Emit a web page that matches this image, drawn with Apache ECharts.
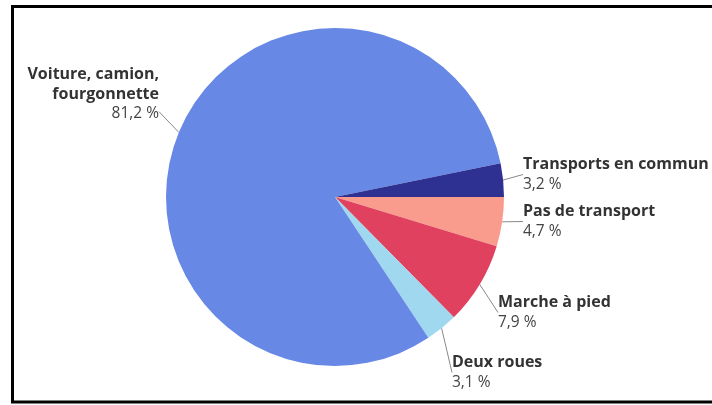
<!DOCTYPE html>
<html><head><meta charset="utf-8">
<script src="https://cdn.jsdelivr.net/npm/echarts@6/dist/echarts.min.js"></script>
<style>html,body{margin:0;padding:0;background:#fff}#c{width:712px;height:405px}</style>
</head><body><div id="c"></div>
<script>
const categories = ["Pas de transport", "Marche à pied", "Deux roues", "Voiture, camion,\nfourgonnette", "Transports en commun"];
const values = [4.7, 7.9, 3.1, 81.2, 3.2];
const valueLabels = ["4,7 %", "7,9 %", "3,1 %", "81,2 %", "3,2 %"];
const colors = ["#f99b8d", "#e0415f", "#9fd8ef", "#6788e5", "#2f3192"];

const labelPos = [
  {x: 523, y: 202, align: 'left', extra: 0},
  {x: 498, y: 293, align: 'left', extra: 0},
  {x: 452, y: 353, align: 'left', extra: 0},
  {x: 159, y: 65, align: 'right', extra: 56},
  {x: 523, y: 155, align: 'left', extra: 0}
];

const chart = echarts.init(document.getElementById('c'));
chart.setOption({
  animation: false,
  graphic: [{
    type: 'rect', shape: {x: 12.5, y: 6.5, width: 720, height: 395.5},
    style: {fill: 'none', stroke: '#000', lineWidth: 3}, z: 100
  }],
  series: [{
    type: 'pie',
    center: [335, 197],
    radius: 169,
    startAngle: 0,
    clockwise: true,
    data: categories.map((c, i) => ({
      name: c, value: values[i], itemStyle: {color: colors[i]},
      label: {align: labelPos[i].align}
    })),
    label: {
      show: true,
      position: 'outside',
      fontFamily: 'Open Sans',
      formatter: p => {
        let s = '{b|' + p.name.split('\n').join('}\n{b|') + '}\n{v|' + valueLabels[p.dataIndex] + '}';
        if (labelPos[p.dataIndex].extra) s += '\n{e| }';
        return s;
      },
      rich: {
        b: {fontFamily: 'Open Sans', fontWeight: 'bold', fontSize: 16, color: '#333', lineHeight: 19.5},
        v: {fontFamily: 'Open Sans', fontSize: 15.5, color: '#444', lineHeight: 19.5},
        e: {fontSize: 10, lineHeight: 56}
      }
    },
    labelLine: {show: true, length: 8, length2: 0, lineStyle: {color: '#888', width: 1}},
    labelLayout: p => {
      const lp = labelPos[p.dataIndex];
      return {x: lp.x, y: lp.y, align: lp.align, verticalAlign: 'top'};
    }
  }]
});
</script></body></html>
